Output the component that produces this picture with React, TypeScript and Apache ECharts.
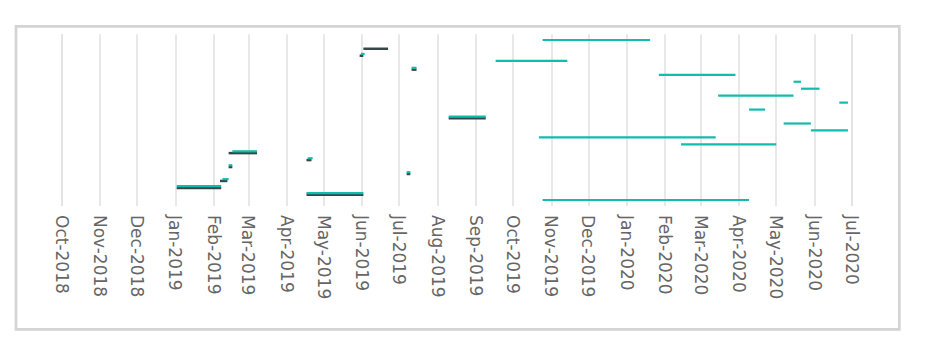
import React, { useEffect, useRef } from "react";
import * as echarts from "echarts";

// Month names used for the axis tick labels ("Oct-2018" ...)
const monthNames = ["Jan", "Feb", "Mar", "Apr", "May", "Jun", "Jul", "Aug", "Sep", "Oct", "Nov", "Dec"];

// Axis range (first and last labelled month)
const axisStart = "2018-10-01";
const axisEnd = "2020-07-01";

// Number of task rows (top to bottom)
const rowCount = 24;

// Teal segments: [row, start, end]
const tealSegments: [number, string, string][] = [
  [0, "2019-10-25", "2020-01-20"],
  [2, "2019-05-31", "2019-06-03"],
  [3, "2019-09-17", "2019-11-14"],
  [4, "2019-07-11", "2019-07-15"],
  [5, "2020-01-27", "2020-03-29"],
  [6, "2020-05-15", "2020-05-21"],
  [7, "2020-05-21", "2020-06-05"],
  [8, "2020-03-15", "2020-05-15"],
  [9, "2020-06-21", "2020-06-28"],
  [10, "2020-04-09", "2020-04-22"],
  [11, "2019-08-10", "2019-09-09"],
  [12, "2020-05-07", "2020-05-29"],
  [13, "2020-05-29", "2020-06-28"],
  [14, "2019-10-22", "2020-03-13"],
  [15, "2020-02-14", "2020-05-01"],
  [16, "2019-02-16", "2019-03-08"],
  [17, "2019-04-18", "2019-04-22"],
  [18, "2019-02-13", "2019-02-16"],
  [19, "2019-07-07", "2019-07-10"],
  [20, "2019-02-08", "2019-02-13"],
  [21, "2019-01-02", "2019-02-07"],
  [22, "2019-04-17", "2019-06-02"],
  [23, "2019-10-25", "2020-04-09"],
];

// Dark segments: [row, start, end]
const darkSegments: [number, string, string][] = [
  [1, "2019-06-02", "2019-06-22"],
  [2, "2019-05-30", "2019-06-02"],
  [4, "2019-07-11", "2019-07-15"],
  [11, "2019-08-10", "2019-09-09"],
  [16, "2019-02-13", "2019-03-08"],
  [17, "2019-04-17", "2019-04-21"],
  [18, "2019-02-13", "2019-02-16"],
  [19, "2019-07-07", "2019-07-10"],
  [20, "2019-02-06", "2019-02-12"],
  [21, "2019-01-02", "2019-02-07"],
  [22, "2019-04-17", "2019-06-02"],
];

const toTs = (s: string) => {
  const [y, m, d] = s.split("-").map(Number);
  return new Date(y, m - 1, d).getTime();
};

const HOUR = 3600 * 1000;

export default function App() {
  const ref = useRef<HTMLDivElement>(null);

  useEffect(() => {
    if (!ref.current) return;
    const chart = echarts.init(ref.current, undefined, { renderer: "svg" });

    const makeRender = (color: string, width: number, dy: number) =>
      (params: any, api: any) => {
        const s = api.coord([api.value(0), api.value(2)]);
        const e = api.coord([api.value(1), api.value(2)]);
        return {
          type: "line",
          shape: { x1: s[0], y1: s[1] + dy, x2: e[0], y2: e[1] + dy },
          style: { stroke: color, lineWidth: width, lineCap: "butt" },
        };
      };

    chart.setOption({
      animation: false,
      backgroundColor: "#ffffff",
      grid: { left: 61.7, right: 81.3, top: 34.3, bottom: 147, containLabel: false },
      xAxis: {
        type: "time",
        min: toTs(axisStart) - HOUR,
        max: toTs(axisEnd) + HOUR,
        splitNumber: 21,
        minInterval: 28 * 24 * HOUR,
        maxInterval: 31 * 24 * HOUR,
        axisLine: { show: false },
        axisTick: { show: false },
        splitLine: { show: true, lineStyle: { color: "#e3e3e3", width: 1.6 } },
        axisLabel: {
          interval: 0,
          rotate: -90,
          margin: 9,
          color: "#666666",
          fontFamily: "DejaVu Sans",
          fontSize: 17,
          formatter: (v: number) => {
            const d = new Date(v);
            if (d.getDate() !== 1 || d.getHours() !== 0 || d.getMinutes() !== 0) return "";
            return monthNames[d.getMonth()] + "-" + d.getFullYear();
          },
        },
      },
      yAxis: {
        type: "value",
        inverse: true,
        min: -0.82,
        max: rowCount - 0.14,
        show: false,
        splitLine: { show: false },
      },
      graphic: [
        {
          type: "rect",
          shape: { x: 16, y: 26.3, width: 883.3, height: 303 },
          style: { fill: "none", stroke: "#d4d4d4", lineWidth: 2.7 },
          silent: true,
        },
      ],
      series: [
        {
          type: "custom",
          renderItem: makeRender("#374649", 2.5, 1.8),
          encode: { x: [0, 1], y: 2 },
          data: darkSegments.map(([r, s, e]) => [toTs(s), toTs(e), r]),
        },
        {
          type: "custom",
          renderItem: makeRender("#12bcad", 2.2, 0),
          encode: { x: [0, 1], y: 2 },
          data: tealSegments.map(([r, s, e]) => [toTs(s), toTs(e), r]),
        },
      ],
    });

    return () => chart.dispose();
  }, []);

  return (
    <div
      ref={ref}
      style={{ position: "absolute", left: 0, top: 0, width: 933, height: 353 }}
    />
  );
}
